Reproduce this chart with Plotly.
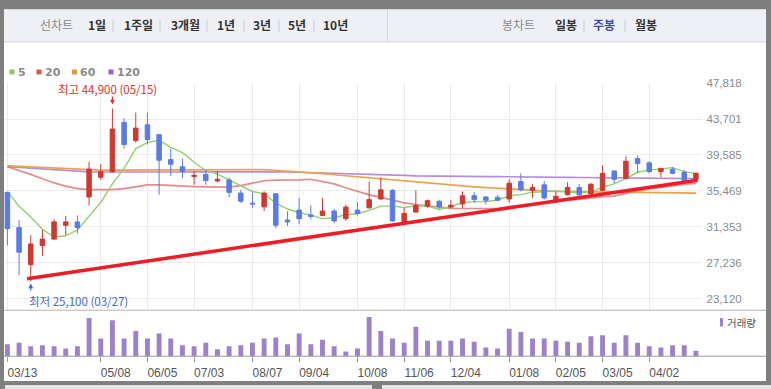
import plotly.graph_objects as go

W, H = 771, 389

# ---------------- data ----------------
x_idx = list(range(60))
tick_idx = [0, 8, 12, 16, 21, 25, 30, 34, 38, 43, 47, 51, 55]
tick_text = ["03/13", "05/08", "06/05", "07/03", "08/07", "09/04", "10/08",
             "11/06", "12/04", "01/08", "02/05", "03/05", "04/02"]

open_ = [35300, 31270, 27020, 29210, 29950, 31530, 31920, 34770, 37030, 37670,
         43310, 41230, 43040, 41910, 39050, 38230, 37110, 37360, 36610, 36720,
         35220, 34060, 33640, 35140, 32140, 33270, 32710, 32660, 33160, 32290,
         33270, 33530, 34540, 35530, 31920, 33040, 33720, 34280, 33610, 33980,
         34920, 34770, 34740, 34540, 36540, 35530, 36160, 34210, 35030, 35860,
         35140, 35530, 37740, 36910, 39170, 38680, 37670, 37960, 37590, 36800]
high = [35300, 32140, 30400, 31010, 32210, 32590, 32660, 38800, 38520, 44900,
        43790, 44430, 44430, 41950, 40300, 39170, 37740, 37850, 37740, 37030,
        35590, 35300, 35410, 35160, 33160, 34660, 33790, 34660, 33420, 33900,
        34170, 36540, 37030, 35670, 33530, 35530, 34470, 34470, 34400, 35410,
        35330, 34850, 34960, 36800, 37480, 36240, 36610, 35410, 36460, 36240,
        36350, 38410, 37850, 39430, 39540, 38860, 38120, 38230, 37850, 37590]
low = [29210, 25800, 25100, 28000, 29900, 30400, 30600, 33790, 36720, 37550,
       40300, 41000, 40780, 35030, 37170, 36910, 36160, 36160, 36460, 34770,
       34090, 33530, 33160, 31160, 31470, 31650, 32210, 32590, 31760, 32030,
       32660, 33420, 34470, 31950, 31840, 32970, 33530, 33420, 33530, 33530,
       34090, 33900, 34280, 34170, 35410, 34660, 34470, 34170, 34960, 34850,
       35030, 35410, 36350, 36800, 37590, 37480, 37030, 37360, 36460, 36540]
close = [31160, 28450, 29390, 29950, 31920, 31920, 31270, 37960, 37670, 42550,
         40780, 42660, 41340, 38980, 38520, 37670, 37250, 36650, 36800, 35300,
         34280, 33980, 35220, 31530, 31920, 32290, 32550, 33160, 32030, 33610,
         32890, 34470, 35590, 32030, 32890, 33790, 34350, 33640, 33830, 34920,
         34470, 34400, 34400, 36350, 35590, 35860, 34660, 34850, 35860, 35030,
         36240, 37480, 36800, 38860, 38600, 37670, 38040, 37480, 36540, 37480]

ma5 = [35410, 33720, 32480, 31080, 30180, 30330, 31000, 32600, 34150, 36270,
       38050, 40320, 41000, 41260, 40460, 39840, 38750, 37810, 37380, 36730,
       36060, 35400, 35120, 34060, 33390, 32990, 32700, 32290, 32390, 32730,
       32850, 33230, 33720, 33720, 33570, 33750, 33730, 33340, 33700, 34110,
       34240, 34250, 34400, 34910, 35040, 35320, 35370, 35460, 35360, 35250,
       35330, 35890, 36280, 36880, 37600, 37880, 37990, 38130, 37670, 37440]
ma20 = [38230, 37810, 37360, 36860, 36380, 36010, 35730, 35620, 35590, 35620,
        35730, 35950, 36150, 36160, 36070, 35990, 35950, 35930, 35910, 35900,
        36070, 36340, 36630, 36710, 36710, 36730, 36800, 36560, 36270, 35830,
        35430, 35020, 34730, 34390, 34100, 33910, 33770, 33620, 33470, 33450,
        33460, 33480, 33440, 33680, 33860, 34040, 34150, 34230, 34420, 34490,
        34660, 34810, 34870, 35210, 35500, 35690, 35880, 36070, 36200, 36330]
ma60 = [38345, 38280, 38200, 38120, 38050, 37990, 37920, 37850, 37840, 37840,
        37845, 37850, 37850, 37850, 37850, 37850, 37860, 37870, 37890, 37910,
        37920, 37925, 37900, 37830, 37750, 37670, 37560, 37440, 37320, 37200,
        37100, 36990, 36880, 36770, 36650, 36520, 36400, 36270, 36140, 36040,
        35940, 35850, 35760, 35670, 35600, 35530, 35470, 35410, 35380, 35360,
        35340, 35320, 35310, 35300, 35290, 35270, 35260, 35240, 35230, 35220]
ma120 = [38231, 38150, 38050, 37950, 37850, 37760, 37690, 37650, 37630, 37620,
         37620, 37620, 37620, 37620, 37620, 37630, 37640, 37650, 37660, 37670,
         37680, 37690, 37680, 37660, 37630, 37600, 37570, 37540, 37510, 37480,
         37440, 37400, 37350, 37300, 37250, 37200, 37170, 37150, 37130, 37120,
         37110, 37105, 37100, 37100, 37090, 37080, 37060, 37040, 37020, 37000,
         36980, 36960, 36950, 36940, 36930, 36920, 36910, 36900, 36890, 36880]

volume = [123, 137, 103, 113, 103, 80, 103, 390, 180, 367,
          180, 257, 180, 233, 180, 113, 103, 137, 70, 103,
          113, 137, 180, 190, 123, 233, 123, 167, 103, 47,
          80, 400, 257, 180, 137, 300, 157, 157, 157, 180,
          147, 90, 80, 280, 247, 180, 180, 157, 147, 137,
          203, 213, 137, 213, 137, 103, 90, 113, 113, 57]

trend_x = [1.68, 59.15]
trend_y = [25410, 36690]

price_ticks = [23120, 27236, 31353, 35469, 39585, 43701, 47818]
price_tick_text = ["23,120", "27,236", "31,353", "35,469", "39,585", "43,701", "47,818"]

high_idx, high_val, high_label = 9, 44900, "최고 44,900 (05/15)"
low_idx, low_val, low_label = 2, 25100, "최저 25,100 (03/27)"

ma_legend = [("5", "#86c95a"), ("20", "#d9534f"), ("60", "#e8953a"), ("120", "#9b5bd4")]

# ---------------- style ----------------
RED = "#cc3a32"
BLUE = "#5a7ce2"
VOL = "#9b82c9"
GRID = "#ececec"
KFONT = "Noto Sans CJK KR"
NFONT = "Liberation Sans"


def px(x):
    return x / W


def py(y):
    return 1 - y / H


fig = go.Figure()

ma_styles = [(ma120, "#b48ce2", 1.7), (ma60, "#eba24a", 1.7),
             (ma20, "rgba(220,100,100,0.75)", 1.7), (ma5, "#93d06c", 1.4)]
for vals, col, wd in ma_styles:
    fig.add_trace(go.Scatter(x=x_idx, y=vals, mode="lines",
                             line=dict(color=col, width=wd),
                             xaxis="x", yaxis="y", hoverinfo="skip",
                             showlegend=False))

fig.add_trace(go.Candlestick(
    x=x_idx, open=open_, high=high, low=low, close=close,
    increasing=dict(line=dict(color=RED, width=1), fillcolor=RED),
    decreasing=dict(line=dict(color=BLUE, width=1), fillcolor=BLUE),
    whiskerwidth=0, xaxis="x", yaxis="y3", showlegend=False, hoverinfo="skip"))

fig.add_trace(go.Scatter(x=trend_x, y=trend_y, mode="lines",
                         line=dict(color="#ee1c24", width=3.5),
                         xaxis="x", yaxis="y3", showlegend=False,
                         hoverinfo="skip"))

fig.add_trace(go.Bar(x=x_idx, y=volume, width=0.42,
                     marker=dict(color=VOL, line=dict(width=0)),
                     xaxis="x2", yaxis="y2", showlegend=False, hoverinfo="skip"))

# axis geometry (pixels)
x_left, x_right = 4, 701.5
x0 = (x_left - 7.4) / 11.67
x1 = (x_right - 7.4) / 11.67
y_lo, y_hi = 21850, 47870
k = 0.0088683
main_bot = 297.3 + (23120 - y_lo) * k
main_top = 297.3 - (y_hi - 23120) * k

fig.update_layout(
    width=W, height=H, autosize=False,
    margin=dict(l=0, r=0, t=0, b=0),
    paper_bgcolor="#7f7f7f", plot_bgcolor="rgba(0,0,0,0)",
    boxgap=0.45,
    xaxis=dict(domain=[px(x_left), px(x_right)], range=[x0, x1],
               anchor="y", tickvals=tick_idx, showticklabels=False,
               showgrid=True, gridcolor=GRID, gridwidth=1, zeroline=False,
               showline=False, ticks="", rangeslider=dict(visible=False),
               fixedrange=True),
    xaxis2=dict(domain=[px(x_left), px(x_right)], range=[x0, x1],
                anchor="y2", tickvals=tick_idx, ticktext=tick_text,
                ticks="outside", ticklen=5, tickcolor="#9a9a9a", tickwidth=1,
                showgrid=False, zeroline=False, showline=False,
                ticklabelshift=15,
                tickfont=dict(family=NFONT, size=12, color="#555555")),
    yaxis=dict(domain=[py(main_bot), py(main_top)], range=[y_lo, y_hi],
               anchor="x", side="right", tickvals=price_ticks,
               ticktext=price_tick_text, showgrid=True, gridcolor=GRID,
               zeroline=False, showline=False, ticks="",
               ticklabelstandoff=4,
               tickfont=dict(family=NFONT, size=11.5, color="#8a8a8a")),
    yaxis3=dict(overlaying="y", range=[y_lo, y_hi], anchor="x",
                visible=False, showgrid=False),
    yaxis2=dict(domain=[py(355.7), py(309)], range=[0, 470], anchor="x2",
                visible=False, showgrid=False),
    showlegend=False,
)

shapes = []


def rect(x0_, y0_, x1_, y1_, fill, layer="below"):
    shapes.append(dict(type="rect", xref="paper", yref="paper",
                       x0=px(x0_), x1=px(x1_), y0=py(y1_), y1=py(y0_),
                       fillcolor=fill, line=dict(width=0), layer=layer))


def hline(x0_, x1_, y_, col, layer="below"):
    shapes.append(dict(type="line", xref="paper", yref="paper",
                       x0=px(x0_), x1=px(x1_), y0=py(y_), y1=py(y_),
                       line=dict(color=col, width=1), layer=layer))


def vline(x_, y0_, y1_, col, layer="below"):
    shapes.append(dict(type="line", xref="paper", yref="paper",
                       x0=px(x_), x1=px(x_), y0=py(y0_), y1=py(y1_),
                       line=dict(color=col, width=1), layer=layer))


rect(4, 3.5, 766, 381, "white")
rect(4, 3.5, 766, 36.5, "#eef0f5")
hline(4, 766, 36.5, "#d3d6dc")
vline(387.5, 3.5, 36.5, "#d3d6dc")
rect(5, 385, 372, 389, "#e4e4e4")
rect(382, 385, 771, 389, "#e4e4e4")
hline(4, 766, 309, "#b4b4b4", layer="above")
hline(4, 766, 355.7, "#9a9a9a", layer="above")
for sx in [113, 160, 207, 244, 279, 314, 584, 625]:
    vline(sx, 14, 26, "#cccccc")

# MA legend squares
leg_x = [9.5, 36.5, 72, 108.5]
for (lab, col), lx in zip(ma_legend, leg_x):
    rect(lx, 64.5, lx + 5, 69.5, col, layer="above")
# volume legend marker
rect(720, 317, 723, 325.5, VOL, layer="above")

fig.update_layout(shapes=shapes)

ann = []


def txt(x_, y_, s, size=12, color="#333", family=KFONT, anchor="left"):
    ann.append(dict(xref="paper", yref="paper", x=px(x_), y=py(y_), text=s,
                    showarrow=False, xanchor=anchor, yanchor="middle",
                    font=dict(family=family, size=size, color=color)))


# toolbar
txt(38, 19, "선차트", color="#8a8a8a")
for lab, lx in [("1일", 86), ("1주일", 122), ("3개월", 169), ("1년", 215),
                ("3년", 251), ("5년", 286), ("10년", 321)]:
    txt(lx, 19, "<b>" + lab + "</b>", color="#333333")
txt(500, 19, "봉차트", color="#8a8a8a")
txt(553, 19, "<b>일봉</b>", color="#333333")
txt(591, 19, "<b>주봉</b>", color="#3c4db3")
txt(633, 19, "<b>월봉</b>", color="#333333")

# MA legend texts
for (lab, col), lx in zip(ma_legend, leg_x):
    txt(lx + 6, 67.5, "<b>" + lab + "</b>", size=11, color="#8a8a8a",
        family="DejaVu Sans")

txt(725, 321, "거래량", size=10.5, color="#555555")

# high / low annotations
ann.append(dict(xref="x", yref="y", x=high_idx, y=high_val, text=high_label,
                showarrow=False, xanchor="center", yanchor="middle",
                xshift=-5, yshift=20,
                font=dict(family=KFONT, size=11.5, color="#e0302c")))
ann.append(dict(xref="x", yref="y", x=high_idx, y=high_val, text=" ",
                showarrow=True, ax=0, ay=-14, arrowhead=2, arrowsize=0.8,
                arrowwidth=1.2, arrowcolor="#e0302c", standoff=4,
                font=dict(size=1)))
ann.append(dict(xref="x", yref="y", x=low_idx, y=low_val, text=low_label,
                showarrow=False, xanchor="left", yanchor="middle",
                xshift=-4, yshift=-20,
                font=dict(family=KFONT, size=11.5, color="#4566cc")))
ann.append(dict(xref="x", yref="y", x=low_idx, y=low_val, text=" ",
                showarrow=True, ax=0, ay=11, arrowhead=2, arrowsize=0.8,
                arrowwidth=1.2, arrowcolor="#4566cc", standoff=2,
                font=dict(size=1)))

fig.update_layout(annotations=ann)

fig.write_html("out.html",
               config={"displayModeBar": False, "staticPlot": True},
               post_script="document.body.style.margin='0';"
                           "document.body.style.overflow='hidden';")
